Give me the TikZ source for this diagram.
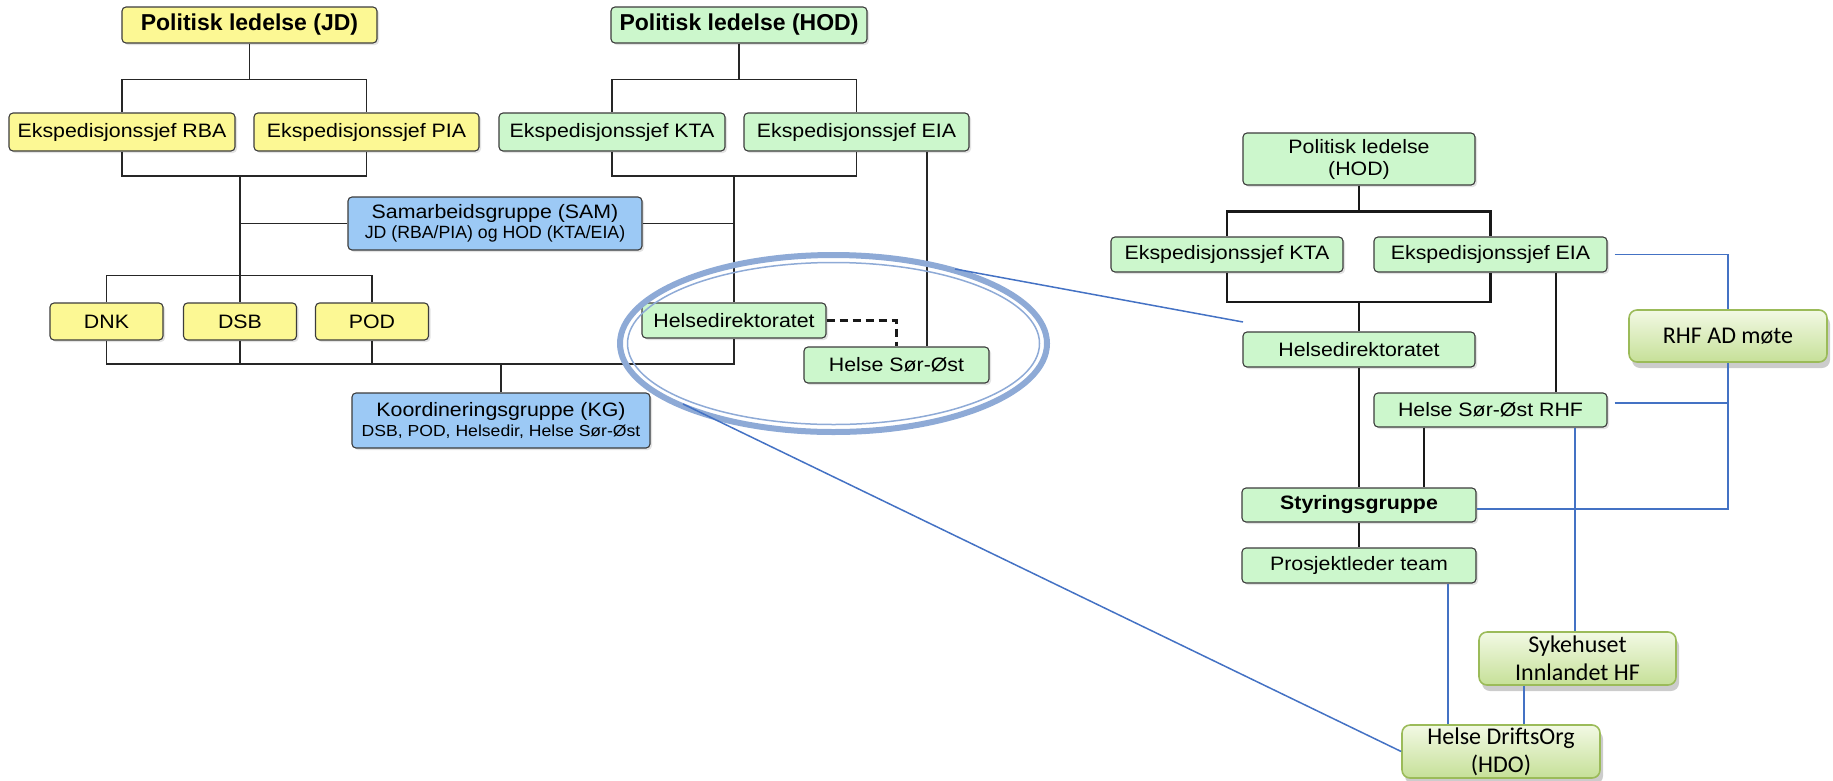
\documentclass[tikz,border=0pt]{standalone}
\usepackage{fontspec}
\setmainfont{Liberation Sans}
\newfontfamily\wf[FakeStretch=1.1]{Liberation Sans}
\newfontfamily\cf{Carlito}
\usetikzlibrary{shapes.geometric,shadows}
\definecolor{ylw}{RGB}{252,248,148}
\definecolor{grn}{RGB}{204,247,204}
\definecolor{blu}{RGB}{156,201,245}
\definecolor{bord}{RGB}{60,60,60}
\definecolor{lnk}{RGB}{68,114,196}
\definecolor{ring}{RGB}{142,170,214}
\definecolor{ggtop}{RGB}{242,249,228}
\definecolor{ggbot}{RGB}{198,224,152}
\definecolor{ggbord}{RGB}{155,187,89}
\begin{document}
\begin{tikzpicture}[x=1pt,y=-1pt,
 base/.style={rectangle, rounded corners=4pt, draw=bord, line width=1.1pt, inner sep=0pt, align=center,
   font=\wf\fontsize{19.4}{22}\selectfont,
   drop shadow={shadow xshift=2pt, shadow yshift=-2pt, fill=black!22}},
 ybox/.style={base, fill=ylw},
 gbox/.style={base, fill=grn},
 bbox/.style={base, fill=blu},
 cbox/.style={rectangle, rounded corners=8pt, draw=ggbord, line width=1.6pt, top color=ggtop, bottom color=ggbot,
   inner sep=0pt, align=center, font=\cf\fontsize{24}{28}\selectfont,
   drop shadow={shadow xshift=3pt, shadow yshift=-6pt, fill=black!40}},
 sz/.style 2 args={minimum width=#1pt, minimum height=#2pt},
 org/.style={draw=black!85, line width=1.3pt},
 orgr/.style={draw=black!90, line width=2.2pt},
 bluel/.style={draw=lnk, line width=1.5pt},
 boldf/.style={font=\bfseries\fontsize{23}{26}\selectfont},
]
\useasboundingbox (0,0) rectangle (1833,780);

% ---------- left chart ----------
\node[ybox, sz={255}{36}, boldf] (jd) at (249.5,25) {Politisk ledelse (JD)};
\node[gbox, sz={256}{36}, boldf] (hodl) at (739,25) {Politisk ledelse (HOD)};
\node[ybox, sz={226}{38}] (rba) at (122,132) {Ekspedisjonssjef RBA};
\node[ybox, sz={225}{38}] (pia) at (366.5,132) {Ekspedisjonssjef PIA};
\node[gbox, sz={226}{38}] (kta) at (612,132) {Ekspedisjonssjef KTA};
\node[gbox, sz={225}{38}] (eia) at (856.5,132) {Ekspedisjonssjef EIA};
\node[bbox, sz={294}{53}] (sam) at (495,223.5) {Samarbeidsgruppe (SAM)\\[-2pt]{\normalfont\fontsize{17.7}{20}\selectfont JD (RBA/PIA) og HOD (KTA/EIA)}};
\node[ybox, sz={113}{37}] (dnk) at (106.5,321.5) {DNK};
\node[ybox, sz={113}{37}] (dsb) at (240,321.5) {DSB};
\node[ybox, sz={113}{37}] (pod) at (372,321.5) {POD};
\node[gbox, sz={184}{35}] (hdir) at (734,320.5) {Helsedirektoratet};
\node[gbox, sz={185}{36}] (hso) at (896.5,365) {Helse Sør-Øst};
\node[bbox, sz={298}{55}] (kg) at (501,420.5) {Koordineringsgruppe (KG)\\[-2pt]{\wf\fontsize{16}{20}\selectfont DSB, POD, Helsedir, Helse Sør-Øst}};

\coordinate (jdj) at (240,176);
\coordinate (hj) at (734,176);
\coordinate (bb) at (0,364);
\coordinate (eiax) at (927,0);

\draw[org] (jd.south) -- ++(0,36) -| (rba.north);
\draw[org] (jd.south) -- ++(0,36) -| (pia.north);
\draw[org] (rba.south) |- (jdj) -| (pia.south);
\draw[org] (jdj) -- (dsb.north);
\draw[org] (sam.west) -- (sam.west -| dsb.north);
\draw[org] (dnk.north) -- ++(0,-27) -| (pod.north);
\draw[org] (dnk.south) |- (bb -| hdir.south) -- (hdir.south);
\draw[org] (dsb.south) -- (dsb.south |- bb);
\draw[org] (pod.south) -- (pod.south |- bb);
\draw[org] (kg.north) -- (kg.north |- bb);
\draw[org] (hodl.south) -- ++(0,36) -| (kta.north);
\draw[org] (hodl.south) -- ++(0,36) -| (eia.north);
\draw[org] (kta.south) |- (hj) -| (eia.south);
\draw[org] (hj) -- (hdir.north);
\draw[org] (sam.east) -- (sam.east -| hdir.north);
\draw[org] (eia.south -| eiax) -- (hso.north -| eiax);
\draw[black!90, line width=2.4pt, dash pattern=on 8pt off 5pt] (hdir.east) -| (hso.north);

% ---------- right chart ----------
\node[gbox, sz={232}{52}] (rpol) at (1359,159) {Politisk ledelse\\(HOD)};
\node[gbox, sz={232}{35}] (rkta) at (1227,254.5) {Ekspedisjonssjef KTA};
\node[gbox, sz={233}{35}] (reia) at (1490.5,254.5) {Ekspedisjonssjef EIA};
\node[gbox, sz={232}{35}] (rhdir) at (1359,349.5) {Helsedirektoratet};
\node[gbox, sz={233}{34}] (rhso) at (1490.5,410) {Helse Sør-Øst RHF};
\node[gbox, sz={234}{34}, font=\wf\bfseries\fontsize{19.4}{22}\selectfont] (styr) at (1359,505) {Styringsgruppe};
\node[gbox, sz={234}{35}] (proj) at (1359,565.5) {Prosjektleder team};
\node[cbox, sz={198}{52}] (rhfad) at (1728,336) {RHF AD møte};
\node[cbox, sz={197}{53}] (syk) at (1577.5,658.5) {Sykehuset\\Innlandet HF};
\node[cbox, sz={198}{53}] (hdo) at (1501,751.5) {Helse DriftsOrg\\(HDO)};

\coordinate (rj) at (1359,302);
\coordinate (reiax) at (1556,0);
\coordinate (rhsox) at (1424,0);
\coordinate (sykx) at (1575,0);
\coordinate (projx) at (1448,0);
\coordinate (sykb) at (1524,0);

\draw[orgr] (rpol.south) -- ++(0,26) -| (rkta.north);
\draw[orgr] (rpol.south) -- ++(0,26) -| (reia.north);
\draw[orgr] (rkta.south) |- (rj) -| (reia.south);
\draw[orgr] (rj) -- (rhdir.north);
\draw[orgr] (rhdir.south) -- (styr.north);
\draw[orgr] (reia.south -| reiax) -- (rhso.north -| reiax);
\draw[orgr] (rhso.south -| rhsox) -- (styr.north -| rhsox);
\draw[orgr] (styr.south) -- (proj.north);

\draw[bluel] ([xshift=7pt]reia.east) -| (rhfad.north);
\draw[bluel] (rhfad.south) |- ([yshift=-4pt]styr.east);
\draw[bluel] ([xshift=7pt,yshift=7pt]rhso.east) coordinate (b3) -- (b3 -| rhfad.south);
\draw[bluel] (rhso.south -| sykx) -- (syk.north -| sykx);
\draw[bluel] (proj.south -| projx) -- (hdo.north -| projx);
\draw[bluel] (syk.south -| sykb) -- (hdo.north -| sykb);

% ---------- magnifier ellipse ----------
\node[ellipse, draw=ring, line width=6pt, minimum width=427pt, minimum height=177pt, inner sep=0pt] (ell) at (833.5,343.5) {};
\draw[ring, line width=1.5pt] (ell.center) ellipse [x radius=206, y radius=81];
\coordinate (z1) at (955,269);
\coordinate (z1e) at (1243,322);
\coordinate (z2) at (683,404);
\draw[bluel] (z1) -- (z1e);
\draw[bluel] (z2) -- (hdo.west);
\end{tikzpicture}
\end{document}
